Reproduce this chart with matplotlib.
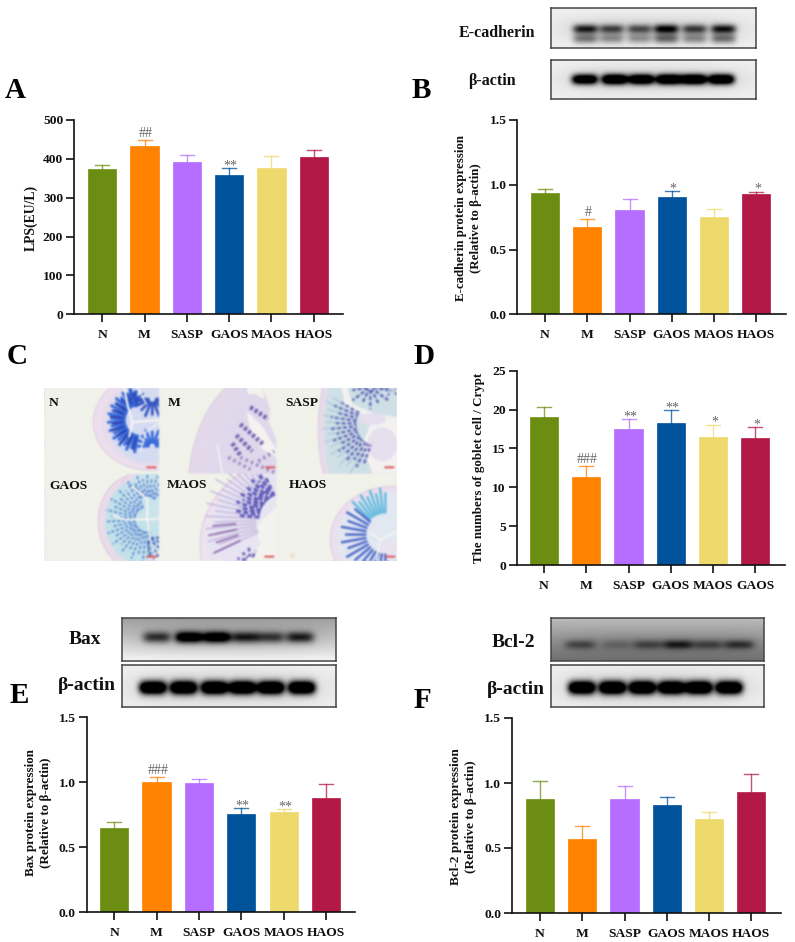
import numpy as np
import matplotlib
matplotlib.use('Agg')
import matplotlib.pyplot as plt
from matplotlib.figure import Figure
from matplotlib.backends.backend_agg import FigureCanvasAgg
from matplotlib.patches import Ellipse, Polygon

W, H = 795, 942
serif = ['Liberation Serif', 'DejaVu Serif']
plt.rcParams['font.family'] = serif
plt.rcParams['font.weight'] = 'bold'

groups = ['N', 'M', 'SASP', 'GAOS', 'MAOS', 'HAOS']
groups_d = ['N', 'M', 'SASP', 'GAOS', 'MAOS', 'GAOS']
colors = ['#6b8e12', '#ff8200', '#b56eff', '#00529b', '#eed96c', '#b21845']

lps_mean = [374, 434, 392, 359, 377, 406]
lps_top = [384, 448, 409, 376, 408, 424]
lps_marks = {1: '##', 3: '**'}

ecad_mean = [0.934, 0.671, 0.805, 0.908, 0.749, 0.926]
ecad_top = [0.970, 0.736, 0.890, 0.952, 0.813, 0.947]
ecad_marks = {1: '#', 3: '*', 5: '*'}

goblet_mean = [19.0, 11.36, 17.5, 18.3, 16.5, 16.4]
goblet_top = [20.3, 12.8, 18.8, 19.9, 18.05, 17.75]
goblet_marks = {1: '###', 2: '**', 3: '**', 4: '*', 5: '*'}

bax_mean = [0.646, 1.003, 0.992, 0.754, 0.772, 0.877]
bax_top = [0.692, 1.041, 1.028, 0.803, 0.795, 0.985]
bax_marks = {1: '###', 3: '**', 4: '**'}

bcl_mean = [0.874, 0.569, 0.874, 0.828, 0.723, 0.931]
bcl_top = [1.018, 0.667, 0.974, 0.892, 0.774, 1.067]

# western blot band strength per lane
ecad_bands = [0.85, 0.65, 0.6, 0.95, 0.68, 0.9]
actin_b_bands = [0.9, 1.0, 0.95, 1.0, 1.0, 1.0]
bax_bands = [0.55, 1.0, 1.0, 0.62, 0.5, 0.62]
actin_e_bands = [1.0, 1.0, 1.0, 1.0, 1.0, 1.0]
bcl_bands = [0.45, 0.18, 0.42, 0.72, 0.45, 0.6]
actin_f_bands = [1.0, 1.0, 1.0, 1.0, 1.0, 1.0]

fig = plt.figure(figsize=(W / 100, H / 100), dpi=100, facecolor='white')


def px_axes(x0, y0, x1, y1):
    return fig.add_axes([x0 / W, 1 - y1 / H, (x1 - x0) / W, (y1 - y0) / H])


def label(x, y, s, size, **kw):
    kw.setdefault('ha', 'center')
    kw.setdefault('va', 'center')
    fig.text(x / W, 1 - y / H, s, fontsize=size, fontweight='bold', color='#111111', **kw)


def bar_panel(x_axis, x_right, y_zero, y_top, first, last, names, mean, top, ymax, yticks, fmt, marks=None):
    ax = px_axes(x_axis, y_top, x_right, y_zero)
    step = (last - first) / 5
    pos = np.arange(len(names))
    ax.bar(pos, mean, width=28.3 / step, color=colors, edgecolor=colors, linewidth=0.5, zorder=2)
    for i in pos:
        ax.plot([i, i], [mean[i], top[i]], color=colors[i], lw=1.0, alpha=0.75, zorder=1)
        ax.plot([i - 7 / step, i + 7 / step], [top[i], top[i]], color=colors[i], lw=1.0, alpha=0.75, zorder=1)
    ax.set_xlim((x_axis - first) / step, (x_right - first) / step)
    ax.set_ylim(0, ymax)
    ax.set_xticks(pos)
    ax.set_xticklabels(names, fontsize=9.7, fontweight='bold', color='#111111')
    ax.set_yticks(yticks)
    ax.set_yticklabels([fmt % t for t in yticks], fontsize=9.7, fontweight='bold', color='#111111')
    ax.tick_params(axis='x', length=5.8, width=1.2, pad=5, color='#111111')
    ax.tick_params(axis='y', length=5.8, width=1.2, pad=2, color='#111111')
    for s in ['top', 'right']:
        ax.spines[s].set_visible(False)
    for s in ['left', 'bottom']:
        ax.spines[s].set_linewidth(1.2)
        ax.spines[s].set_color('#111111')
    ax.patch.set_alpha(0)
    for i, s in (marks or {}).items():
        ax.annotate(s, (i, top[i]), xytext=(1, 0 if '#' in s else -3), textcoords='offset points',
                    ha='center', va='bottom', fontsize=10, fontweight='normal', color='#666666')
    return ax


def blot(x0, y0, x1, y1, lanes, strength, yc, hw=20, bg=(0.94, 0.94), hh=4.5, gain=1.0):
    ax = px_axes(x0, y0, x1, y1)
    w, h = int(x1 - x0) * 2, int(y1 - y0) * 2
    xx, yy = np.meshgrid(np.linspace(x0, x1, w), np.linspace(y0, y1, h))
    img = bg[0] + (bg[1] - bg[0]) * (yy - y0) / (y1 - y0)
    if not isinstance(yc, list):
        yc = [(yc, 1.0, hh)]
    dark = np.zeros_like(img)
    for c, s in zip(lanes, strength):
        for yb, k, hb in yc:
            dark = dark + s * k * np.exp(-((xx - c) / hw) ** 4) * np.exp(-((yy - yb) / hb) ** 2)
    halo = 0.14 * np.exp(-((yy - yc[0][0]) / (hh * 2.4)) ** 2) * np.exp(-((xx - np.mean(lanes)) / ((lanes[-1] - lanes[0]) / 2 + 22)) ** 4)
    img = img * (1 - np.clip(dark * gain + halo, 0, 1))
    ax.imshow(img, cmap='gray', vmin=0, vmax=1, aspect='auto', interpolation='bilinear')
    ax.set_xticks([])
    ax.set_yticks([])
    for s in ax.spines.values():
        s.set_linewidth(1.1)
        s.set_color('#444444')


# bar panels
bar_panel(74, 343, 314.3, 120, 102.3, 313.7, groups, lps_mean, lps_top, 500, [0, 100, 200, 300, 400, 500], '%d', lps_marks)
bar_panel(517.3, 785.7, 314.3, 120, 545, 756.3, groups, ecad_mean, ecad_top, 1.5, [0, 0.5, 1.0, 1.5], '%.1f', ecad_marks)
bar_panel(516.7, 785, 565, 370.7, 544, 755.3, groups_d, goblet_mean, goblet_top, 25, [0, 5, 10, 15, 20, 25], '%d', goblet_marks)
bar_panel(86.7, 355, 912.3, 717.3, 114.3, 326, groups, bax_mean, bax_top, 1.5, [0, 0.5, 1.0, 1.5], '%.1f', bax_marks)
bar_panel(512, 781, 913, 718, 540, 751.3, groups, bcl_mean, bcl_top, 1.5, [0, 0.5, 1.0, 1.5], '%.1f')

# blots
blot(551.3, 8.3, 756.3, 47.7, [585.7, 611.7, 640, 666.7, 695, 724], ecad_bands, [(29, 0.95, 4.5), (38.5, 0.55, 5)], hw=12.5, hh=5)
blot(551.3, 60, 756.3, 99.3, [585, 615, 641.7, 669.3, 694.3, 721.7], actin_b_bands, 80, hw=13, hh=5, gain=1.5)
blot(122, 617.7, 335.7, 661, [156.7, 189, 216.7, 245, 270.7, 300], bax_bands, 637.5, hw=14, bg=(0.62, 0.96), hh=5.5, gain=1.25)
blot(122, 665, 335.7, 706.7, [152.7, 183.3, 214.3, 242.3, 270.7, 301.7], actin_e_bands, 687.5, hw=13.5, hh=6.5, gain=1.6)
blot(551, 617.7, 764, 661, [580, 616.7, 648.3, 678.3, 708.3, 739.3], bcl_bands, 645, hw=15, bg=(0.74, 0.44), hh=4.5)
blot(551, 665, 764, 706.7, [581.7, 612.3, 642.3, 671.7, 699, 729.3], actin_f_bands, 687.5, hw=13.5, hh=6.5, gain=1.6)

# panel C, drawn small and softened like the photo
SC = 3
cx0, cy0, cx1, cy1 = 43.7, 387.7, 396.7, 561.3
hfig = Figure(figsize=((cx1 - cx0) * SC / 100, (cy1 - cy0) * SC / 100), dpi=100)
FigureCanvasAgg(hfig)
hax = hfig.add_axes([0, 0, 1, 1])
hax.set_xlim(cx0, cx1)
hax.set_ylim(cy1, cy0)
hax.axis('off')
hfig.patch.set_facecolor('#f1f2ea')
xs = [43.7, 158.7, 276, 396.7]
ys = [387.7, 474.3, 561.3]


def clip_rect(col, row):
    return plt.Rectangle((xs[col], ys[row]), xs[col + 1] - xs[col], ys[row + 1] - ys[row], transform=hax.transData)


def blob(col, row, cx, cy, rx, ry, fc, ec='none', lw=0):
    e = Ellipse((cx, cy), rx * 2, ry * 2, fc=fc, ec=ec, lw=lw * SC)
    hax.add_patch(e)
    e.set_clip_path(clip_rect(col, row))


def poly(col, row, pts, fc='#f4f4ee'):
    p = Polygon(pts, fc=fc, ec='none')
    hax.add_patch(p)
    p.set_clip_path(clip_rect(col, row))


def cut(col, row, pts, lw=1.5, c='#f6f6f2'):
    l, = hax.plot(*zip(*pts), color=c, lw=lw * SC, solid_capstyle='round')
    l.set_clip_path(clip_rect(col, row))


def fan(col, row, cx, cy, r1, r2, a1, a2, n, c, lw=1.2, alpha=0.9, dots=False):
    for k, a in enumerate(np.linspace(a1, a2, n)):
        t = np.radians(a)
        # every other crypt a little shorter, so they do not line up
        r = r2 if k % 2 else r1 + (r2 - r1) * 0.8
        xa, ya = cx + r1 * np.cos(t), cy - r1 * np.sin(t)
        xb, yb = cx + r * np.cos(t), cy - r * np.sin(t)
        l, = hax.plot([xa, xb], [ya, yb], color=c, lw=lw * SC, alpha=alpha, solid_capstyle='round',
                      ls=(k % 3 * 0.5, (1.6, 0.8)) if dots else '-')
        l.set_clip_path(clip_rect(col, row))


# N
blob(0, 0, 150, 423, 57, 48, '#ecdfee', '#dcc6e0', 0.6)
blob(0, 0, 150, 423, 48, 43, '#e6dcec')
blob(0, 0, 150, 423, 42, 41, '#d5dcf2')
fan(0, 0, 140, 421, 16, 32, 100, 260, 22, '#2c62d8', 2.2)
fan(0, 0, 140, 421, 18, 30, 104, 256, 12, '#28329a', 1.2)
fan(0, 0, 152, 447, 4, 17, 0, 180, 9, '#2c62d8', 2.0)
fan(0, 0, 152, 400, 4, 18, 180, 360, 9, '#2c4fc0', 2.0)
fan(0, 0, 133, 402, 3, 12, 0, 180, 6, '#2c4fc0', 1.6)
cut(0, 0, [(124, 388), (127, 405), (132, 423), (129, 437)], 1.5)
cut(0, 0, [(132, 423), (158, 421)], 1.5)
cut(0, 0, [(137, 388), (146, 405)], 1.0)
cut(0, 0, [(140, 452), (146, 432), (158, 424)], 0.9)

# M
blob(1, 0, 265, 490, 77, 118, '#e4d9ea', '#d8c5e0', 0.6)
blob(1, 0, 271, 490, 66, 112, '#e0d8ec')
poly(1, 0, [(246, 388), (262, 388), (264, 400), (255, 395), (248, 395)])
poly(1, 0, [(246, 412), (262, 427), (276, 450), (276, 458), (262, 450), (250, 430)], '#f4f3f0')
poly(1, 0, [(262, 388), (276, 388), (276, 440), (268, 422), (270, 410)], '#f1f2ea')
for a, b in [((250, 408), (268, 420)), ((240, 425), (263, 445)), ((236, 436), (252, 452)), ((232, 444), (240, 456))]:
    l, = hax.plot(*zip(a, b), color='#4b3e9c', lw=3.2 * SC, alpha=0.75, ls=(0, (0.7, 0.5)))
    l.set_clip_path(clip_rect(1, 0))
for a, b in [((228, 458), (250, 470)), ((240, 458), (276, 474)), ((258, 462), (274, 452))]:
    l, = hax.plot(*zip(a, b), color='#7a5aa8', lw=2.6 * SC, alpha=0.6, ls=(0, (0.7, 0.9)))
    l.set_clip_path(clip_rect(1, 0))
cut(1, 0, [(217, 445), (222, 474)], 1.0)

# SASP
blob(2, 0, 430, 430, 112, 150, '#e7dbea', '#d8c6e0', 0.6)
blob(2, 0, 430, 430, 106, 145, '#cfe0e6')
poly(2, 0, [(341, 388), (345, 408), (372, 420), (362, 445), (372, 474), (397, 474), (397, 418), (376, 415), (352, 405), (347, 388)], '#f3f2f1')
blob(2, 0, 382, 445, 15, 17, '#e6e0ee')
blob(2, 0, 372, 420, 14, 6, '#e6e0ee')
fan(2, 0, 378, 425, 22, 48, 150, 250, 15, '#3d3fa8', 1.8, 0.7, True)
fan(2, 0, 378, 425, 36, 56, 150, 240, 14, '#8ab5cf', 1.2, 0.4)
fan(2, 0, 370, 388, 3, 22, 190, 350, 7, '#3d3fa8', 1.8, 0.7, True)
fan(2, 0, 392, 388, 3, 12, 190, 350, 4, '#5050b0', 1.4, 0.6, True)

# GAOS
blob(0, 1, 134, 522, 36, 46, '#eadcea', '#dcc4dc', 0.7)
blob(0, 1, 150, 495, 30, 30, '#eadcea', '#dcc4dc', 0.7)
blob(0, 1, 136, 522, 31, 41, '#c4e2ea')
blob(0, 1, 151, 497, 26, 26, '#cbe4ec')
fan(0, 1, 147, 520, 12, 42, 110, 280, 22, '#3f70cc', 1.5, 0.65, True)
fan(0, 1, 147, 505, 8, 30, 40, 130, 10, '#3f6ccc', 1.5, 0.65, True)
fan(0, 1, 147, 538, 4, 22, 280, 360, 5, '#3a50b0', 1.6, 0.75, True)
cut(0, 1, [(132, 487), (147, 500), (147, 520), (124, 520), (113, 516)], 1.4)
cut(0, 1, [(147, 520), (158, 519)], 1.2)
cut(0, 1, [(147, 520), (150, 540), (156, 561)], 1.1)

# MAOS
blob(1, 1, 292, 545, 92, 85, '#eee4f0', '#ddc9e2', 0.8)
blob(1, 1, 292, 545, 85, 79, '#e8e4f2')
poly(1, 1, [(276, 508), (262, 520), (256, 528), (260, 545), (246, 561), (276, 561)], '#f3f3ef')
fan(1, 1, 285, 520, 30, 80, 118, 205, 20, '#b8aedb', 1.2, 0.7)
fan(1, 1, 285, 520, 26, 52, 115, 175, 13, '#4743b2', 2.2, 0.8, True)
fan(1, 1, 285, 520, 50, 78, 185, 205, 4, '#7b4ea0', 1.4, 0.7)
fan(1, 1, 250, 561, 4, 13, 60, 170, 4, '#4a3fa8', 2.0, 0.75, True)

# HAOS
blob(2, 1, 392, 540, 62, 53, '#ecdfee', '#dcc8e2', 0.7)
blob(2, 1, 392, 540, 55, 47, '#e2e8f2')
fan(2, 1, 385, 535, 22, 46, 90, 135, 8, '#4bb0d8', 1.8, 0.8)
fan(2, 1, 385, 535, 20, 44, 140, 270, 14, '#3050c0', 1.8, 0.8)
blob(2, 1, 390, 548, 10, 8, '#e8e4ef')
cut(2, 1, [(396, 532), (380, 540), (370, 533)], 1.2)
cut(2, 1, [(380, 540), (376, 561)], 1.0)

# red scale bars
for sx, sy in [(151, 468), (270, 468), (389, 468), (151, 557), (269, 557), (390, 557)]:
    hax.plot([sx - 4, sx + 4], [sy, sy], color='#dd5a5a', lw=1.4 * SC)
hax.add_patch(Ellipse((292, 556), 4, 5, fc='#ecdcc8', ec='none'))

hfig.canvas.draw()
rgb = np.asarray(hfig.canvas.buffer_rgba())[:, :, :3].astype(float)
for axis in (0, 1):
    for _ in range(3):
        rgb = sum(np.roll(rgb, k, axis=axis) for k in range(-2, 3)) / 5
hist_ax = px_axes(cx0, cy0, cx1, cy1)
hist_ax.imshow(rgb / 255, aspect='auto', interpolation='bilinear')
hist_ax.axis('off')

for s, x, y in [('N', 49, 403), ('M', 168, 403), ('SASP', 285.5, 403),
                ('GAOS', 49, 486), ('MAOS', 167, 485), ('HAOS', 289, 485)]:
    label(x, y, s, 9.7, ha='left')

# y axis titles
label(30.7, 217.5, 'LPS(EU/L)', 9.8, rotation=90)
label(468.7, 218, 'E-cadherin protein expression\n(Relative to β-actin)', 9.3, rotation=90, linespacing=1.3)
label(479, 468, 'The numbers of goblet cell / Crypt', 9.3, rotation=90)
label(38.3, 813, 'Bax protein expression\n(Relative to β-actin)', 9.4, rotation=90, linespacing=1.3)
label(463.8, 816.7, 'Bcl-2 protein expression\n(Relative to β-actin)', 9.5, rotation=90, linespacing=1.3)

# blot names
label(496.7, 33, 'E-cadherin', 11.5)
label(492, 81, 'β-actin', 11.5)
label(84.5, 640, 'Bax', 14)
label(86.5, 686, 'β-actin', 14)
label(513, 642.5, 'Bcl-2', 14)
label(516, 690, 'β-actin', 14)

# panel letters
for s, x, y in [('A', 5, 98), ('B', 412, 98), ('C', 7, 364), ('D', 413, 364), ('E', 10, 703), ('F', 414, 708)]:
    fig.text(x / W, 1 - y / H, s, fontsize=21, fontweight='bold', color='black', ha='left', va='baseline')

fig.savefig('out.png', dpi=100, facecolor='white')
